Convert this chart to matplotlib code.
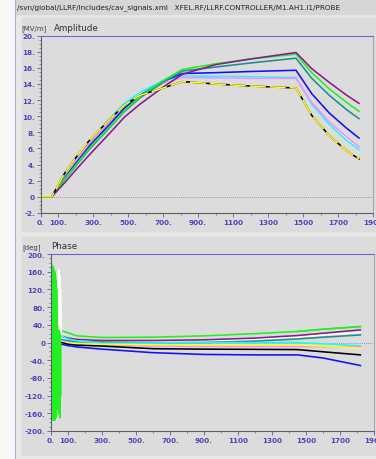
import matplotlib.pyplot as plt
from matplotlib.patches import Rectangle
from matplotlib.lines import Line2D
from matplotlib.ticker import MultipleLocator

W, H = 376, 460

# amplitude traces [MV/m]
t_amp = [0, 64, 140, 200, 283, 400, 480, 569, 700, 810, 1000, 1200, 1460, 1550, 1650, 1750, 1820]
amp_purple = [0, 0, 1.8, 3.3, 5.3, 8.0, 9.9, 11.5, 13.6, 15.2, 16.4, 17.1, 17.9, 15.9, 14.2, 12.6, 11.6]
amp_green = [0, 0, 2.3, 3.9, 6.15, 8.8, 10.7, 12.46, 14.4, 15.8, 16.5, 17.1, 17.7, 15.4, 13.4, 11.7, 10.6]
amp_teal = [0, 0, 2.2, 3.8, 6.0, 8.7, 10.6, 12.3, 14.2, 15.6, 16.1, 16.6, 17.2, 14.7, 12.6, 10.8, 9.7]
amp_blue = [0, 0, 2.4, 4.1, 6.4, 9.1, 11.0, 12.6, 14.3, 15.3, 15.4, 15.55, 15.7, 12.8, 10.4, 8.5, 7.3]
amp_cyan = [0, 0, 2.9, 4.7, 7.1, 9.8, 11.6, 12.96, 14.4, 15.0, 14.95, 14.9, 14.8, 11.5, 9.0, 7.0, 5.9]
amp_white = [0, 0, 2.8, 4.6, 6.9, 9.6, 11.4, 12.7, 14.2, 14.9, 14.85, 14.8, 14.75, 11.6, 9.1, 7.2, 6.0]
amp_pink = [0, 0, 2.6, 4.4, 6.7, 9.4, 11.2, 12.5, 14.1, 14.8, 14.75, 14.7, 14.7, 11.7, 9.3, 7.4, 6.2]
amp_black = [0, 0, 3.0, 4.8, 7.1, 9.7, 11.4, 12.6, 13.5, 14.3, 14.0, 13.75, 13.5, 10.1, 7.6, 5.7, 4.7]
amp_yellow = [0, 0, 3.0, 4.8, 7.15, 9.7, 11.4, 12.6, 13.5, 14.3, 14.0, 13.75, 13.5, 10.1, 7.6, 5.7, 4.7]

# phase traces [deg]
t_ph = [65, 100, 150, 300, 600, 900, 1200, 1450, 1600, 1820]
ph_green = [26, 22, 15, 11.3, 12, 15, 20, 25, 30, 36]
ph_purple = [14, 10, 7, 4.5, 4.5, 6, 10, 15.8, 21, 28.5]
ph_white = [10, 8, 6, 4, 3.5, 4, 8, 12, 17, 23]
ph_teal = [6, 4, 2, 0.7, -0.5, 0, 3, 8, 12, 17]
ph_cyan = [14, 8, 4, -1.6, -1, 0, 0, 0, -3, -7.6]
ph_pink = [4, 0, -3, -5.4, -8, -9, -9, -9, -9.5, -10]
ph_yellow = [2, -1, -3, -4, -5, -5.4, -5.4, -5.4, -8, -12.9]
ph_black = [0, -4, -6, -8, -14, -15, -15.5, -16, -21, -28]
ph_blue = [-4, -7, -10, -15, -23, -27, -28, -28, -35, -52]

# noisy start of the phase before the field builds up
t_noise_green = [2, 4, 6, 8, 10, 12, 14, 16, 18, 20, 22, 24, 26, 28, 30, 32, 34, 36, 38, 40,
                 42, 44, 46, 48, 50, 52, 54, 56, 58, 60, 62]
noise_green = [170, -170, 175, -175, 172, -174, 168, -176, 165, -172, 160, -175, 150, -170, 140, -165,
               120, -150, 115, -135, 110, -130, 100, -160, 95, -170, 88, -120, 60, 32, 28]
t_noise_white = [44, 46, 48, 50, 52, 54, 56, 58, 60, 62, 64]
noise_white = [150, 40, 165, 30, 150, 35, 120, 25, 90, 20, 12]

x_major = [0, 100, 300, 500, 700, 900, 1100, 1300, 1500, 1700, 1900]
x_labels = ['0.', '100.', '300.', '500.', '700.', '900.', '1100', '1300', '1500', '1700', '1900']
x_minor = [200, 400, 600, 800, 1000, 1200, 1400, 1600, 1800]
amp_ticks = [-2, 0, 2, 4, 6, 8, 10, 12, 14, 16, 18, 20]
amp_labels = ['-2.', '0', '2.', '4.', '6.', '8.', '10.', '12.', '14.', '16.', '18.', '20.']
ph_ticks = [-200, -160, -120, -80, -40, 0, 40, 80, 120, 160, 200]
ph_labels = ['-200.', '-160.', '-120.', '-80.', '-40.', '0', '40.', '80.', '120.', '160.', '200.']

LABEL = '#5a3cc0'
PURPLE = '#8b1a8b'
GREEN = '#22f022'
TEAL = '#1a8f8f'
BLUE = '#1010ff'
CYAN = '#10ffff'
PINK = '#ff88ff'
YELLOW = '#ffff10'


def frect(x0, y0, x1, y1):
    # pixel box (top-left origin) -> figure fraction
    return (x0 / W, 1 - y1 / H), (x1 - x0) / W, (y1 - y0) / H


def style_axes(ax, yticks, ylabels, yminor):
    ax.set_facecolor('#dcdcdc')
    ax.set_zorder(5)
    ax.set_xlim(0, 1900)
    ax.set_xticks(x_major)
    ax.set_xticklabels(x_labels)
    ax.set_xticks(x_minor, minor=True)
    ax.set_yticks(yticks)
    ax.set_yticklabels(ylabels)
    ax.yaxis.set_minor_locator(MultipleLocator(yminor))
    ax.tick_params(which='major', labelsize=5.2, labelcolor=LABEL, color='#6650b8', length=3, width=0.6, pad=1)
    ax.tick_params(which='minor', color='#6650b8', length=1.6, width=0.5)
    for lab in ax.get_xticklabels() + ax.get_yticklabels():
        lab.set_fontweight('bold')
    ax.spines['top'].set_color('#7a60d0')
    ax.spines['right'].set_color('#a8a8a8')
    ax.spines['left'].set_color('#606060')
    ax.spines['bottom'].set_color('#606060')
    for s in ax.spines.values():
        s.set_linewidth(0.8)
    ax.axhline(0, color='#8070d0', lw=0.6, ls=(0, (1, 1.5)), zorder=1)


fig = plt.figure(figsize=(W / 100, H / 100), dpi=100, facecolor='#e8e8e8')

xy, w, h = frect(0, 0, 14, H)
fig.patches.append(Rectangle(xy, w, h, transform=fig.transFigure, color='#f8f8f8', zorder=-2))
fig.lines.append(Line2D([15 / W, 15 / W], [0, 1], transform=fig.transFigure, color='#b4aec8', lw=0.8, zorder=-1))
xy, w, h = frect(16, 0, W, 15)
fig.patches.append(Rectangle(xy, w, h, transform=fig.transFigure, color='#d6d6d6', zorder=-2))
xy, w, h = frect(22, 19, W, 232)
fig.patches.append(Rectangle(xy, w, h, transform=fig.transFigure, color='#dcdcdc', zorder=-2))
xy, w, h = frect(22, 238, W, 456)
fig.patches.append(Rectangle(xy, w, h, transform=fig.transFigure, color='#dcdcdc', zorder=-2))

fig.text(17 / W, 1 - 8 / H, '/svn/global/LLRF/includes/cav_signals.xml   XFEL.RF/LLRF.CONTROLLER/M1.AH1.I1/PROBE',
         fontsize=5.2, color='#202020', va='center', ha='left')
fig.text(21 / W, 1 - 29 / H, '[MV/m]', fontsize=5, color='#404040', va='center', ha='left')
fig.text(54 / W, 1 - 28.5 / H, 'Amplitude', fontsize=6.3, color='#303030', va='center', ha='left')
fig.text(22 / W, 1 - 247.5 / H, '[deg]', fontsize=5, color='#404040', va='center', ha='left')
fig.text(51 / W, 1 - 247 / H, 'Phase', fontsize=6.3, color='#303030', va='center', ha='left')

# amplitude
ax1 = fig.add_axes([40.5 / W, 1 - 214 / H, (373 - 40.5) / W, (214 - 36.6) / H])
style_axes(ax1, amp_ticks, amp_labels, 0.5)
ax1.set_ylim(-2, 20)
lw = 1.15
ax1.plot(t_amp, amp_white, color='white', lw=lw)
ax1.plot(t_amp, amp_cyan, color=CYAN, lw=lw)
ax1.plot(t_amp, amp_pink, color=PINK, lw=lw)
ax1.plot(t_amp, amp_blue, color=BLUE, lw=lw)
ax1.plot(t_amp, amp_teal, color=TEAL, lw=lw)
ax1.plot(t_amp, amp_green, color=GREEN, lw=lw)
ax1.plot(t_amp, amp_purple, color=PURPLE, lw=lw)
ax1.plot(t_amp, amp_black, color='black', lw=lw)
ax1.plot(t_amp, amp_yellow, color=YELLOW, lw=lw, ls=(0, (10, 2.5)))

# phase
ax2 = fig.add_axes([51 / W, 1 - 432 / H, (374 - 51) / W, (432 - 255) / H])
style_axes(ax2, ph_ticks, ph_labels, 10)
ax2.set_ylim(-200, 200)
ax2.plot(t_noise_green + t_ph, noise_green + ph_green, color=GREEN, lw=lw)
ax2.plot(t_noise_white + t_ph, noise_white + ph_white, color='white', lw=lw)
ax2.plot(t_ph, ph_teal, color=TEAL, lw=lw)
ax2.plot(t_ph, ph_purple, color=PURPLE, lw=lw)
ax2.plot(t_ph, ph_cyan, color=CYAN, lw=lw)
ax2.plot(t_ph, ph_pink, color=PINK, lw=lw)
ax2.plot(t_ph, ph_yellow, color=YELLOW, lw=lw)
ax2.plot(t_ph, ph_black, color='black', lw=lw)
ax2.plot(t_ph, ph_blue, color=BLUE, lw=lw)
ax2.plot(t_ph[-3:], ph_green[-3:], color=GREEN, lw=lw)

fig.savefig('out.png', dpi=100, facecolor=fig.get_facecolor())
